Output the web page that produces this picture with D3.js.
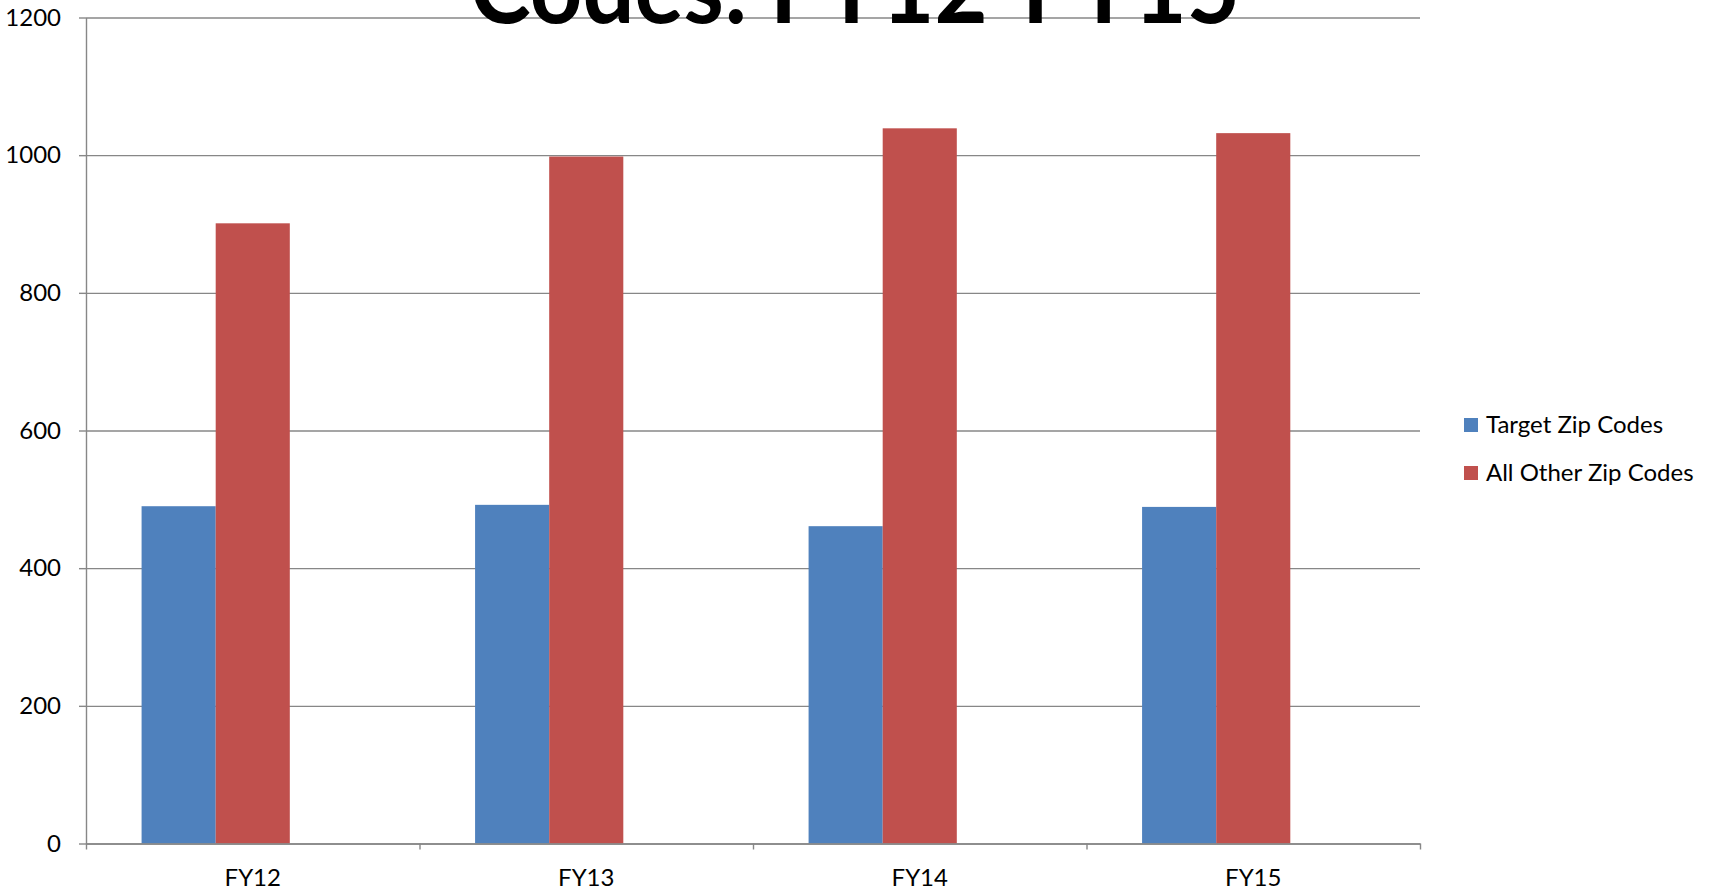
<!DOCTYPE html>
<html>
<head>
<meta charset="utf-8">
<script src="https://cdn.jsdelivr.net/npm/d3@7"></script>
<style>
  body { margin: 0; background: #fff; }
  svg { display: block; }
  text { font-family: Lato, "Open Sans", sans-serif; fill: #000; }
</style>
</head>
<body>
<script>
(function() {
    "use strict";

    //chart data
    var categories = ["FY12", "FY13", "FY14", "FY15"];
    var seriesNames = ["Target Zip Codes", "All Other Zip Codes"];
    var targetValues = [490, 492, 461, 489];
    var otherValues = [901, 998, 1039, 1032];
    var yTicks = [0, 200, 400, 600, 800, 1000, 1200];
    var seriesColors = ["#4F81BD", "#C0504D"];
    var titleText = "Codes: FY12-FY15";

    var seriesValues = [targetValues, otherValues];

    var WIDTH = 1713, HEIGHT = 889;
    var PLOT_LEFT = 86, PLOT_RIGHT = 1420, PLOT_TOP = 17.5, PLOT_BOTTOM = 843.5;
    var FONT_SIZE = 24;
    var GRID_COLOR = "#878787";

    //the source chart reserves three bar slots per category (third one is empty)
    var SLOT_COUNT = 3;

    var svg = d3.select("body").append("svg")
        .attr("width", WIDTH)
        .attr("height", HEIGHT);

    var x0 = d3.scaleBand()
        .domain(categories)
        .range([PLOT_LEFT, PLOT_RIGHT])
        .paddingInner(1 / 3)
        .paddingOuter(1 / 6);

    var x1 = d3.scaleBand()
        .domain(d3.range(SLOT_COUNT))
        .range([0, x0.bandwidth()]);

    var y = d3.scaleLinear()
        .domain([0, 1200])
        .range([PLOT_BOTTOM, PLOT_TOP]);

    //horizontal gridlines
    svg.append("g")
        .attr("class", "grid")
        .attr("transform", "translate(" + PLOT_LEFT + ",0)")
        .call(d3.axisLeft(y).tickValues(yTicks).tickSize(-(PLOT_RIGHT - PLOT_LEFT)).tickFormat(""))
        .call(function(g) { g.select(".domain").remove(); })
        .selectAll("line")
        .attr("stroke", GRID_COLOR)
        .attr("stroke-width", 1.4);

    //bars, one group per series
    var barData = [];
    seriesValues.forEach(function(values, s) {
        values.forEach(function(v, i) {
            barData.push({ series: s, category: categories[i], value: v });
        });
    });

    svg.append("g")
        .selectAll("rect")
        .data(barData)
        .enter()
        .append("rect")
        .attr("x", function(d) { return x0(d.category) + x1(d.series); })
        .attr("y", function(d) { return y(d.value); })
        .attr("width", x1.bandwidth())
        .attr("height", function(d) { return y(0) - y(d.value); })
        .attr("fill", function(d) { return seriesColors[d.series]; });

    //y axis with labels
    var yAxis = svg.append("g")
        .attr("transform", "translate(" + PLOT_LEFT + ",0)")
        .call(d3.axisLeft(y).tickValues(yTicks).tickFormat(d3.format("d"))
            .tickSize(7).tickSizeOuter(0).tickPadding(18));
    yAxis.selectAll("line, path").attr("stroke", GRID_COLOR).attr("stroke-width", 1.4);
    yAxis.selectAll("text").style("font-size", FONT_SIZE + "px").attr("fill", "#000");

    //x axis: tick marks sit between the categories
    var xEdges = d3.scaleLinear().domain([0, categories.length]).range([PLOT_LEFT, PLOT_RIGHT]);
    var xTicks = svg.append("g")
        .attr("transform", "translate(0," + PLOT_BOTTOM + ")")
        .call(d3.axisBottom(xEdges).tickValues(d3.range(categories.length + 1))
            .tickSize(6).tickSizeOuter(0).tickFormat(""));
    xTicks.selectAll("line, path").attr("stroke", GRID_COLOR).attr("stroke-width", 1.4);

    var xLabels = svg.append("g")
        .attr("transform", "translate(0," + PLOT_BOTTOM + ")")
        .call(d3.axisBottom(x0).tickSize(0).tickPadding(25));
    xLabels.select(".domain").remove();
    xLabels.selectAll("text").style("font-size", FONT_SIZE + "px").attr("fill", "#000");

    //title, mostly cut off by the top of the picture
    svg.append("text")
        .attr("x", 470)
        .attr("y", 23)
        .attr("textLength", 770)
        .attr("lengthAdjust", "spacingAndGlyphs")
        .style("font-weight", "bold")
        .style("font-size", "99px")
        .text(titleText);

    //legend
    var legend = svg.append("g")
        .selectAll("g")
        .data(seriesNames)
        .enter()
        .append("g")
        .attr("transform", function(d, i) { return "translate(1464," + (425 + i * 48) + ")"; });

    legend.append("rect")
        .attr("x", 0)
        .attr("y", -7)
        .attr("width", 14)
        .attr("height", 14)
        .attr("fill", function(d, i) { return seriesColors[i]; });

    legend.append("text")
        .attr("x", 22)
        .attr("y", 0)
        .attr("dy", "0.35em")
        .style("font-size", FONT_SIZE + "px")
        .text(function(d) { return d; });
}());
</script>
</body>
</html>
